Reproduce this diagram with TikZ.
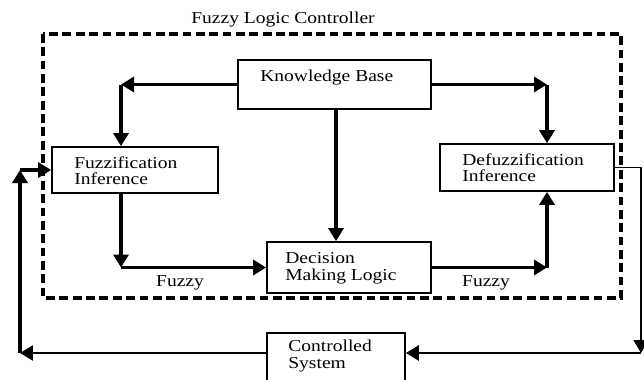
\documentclass[tikz,border=0pt]{standalone}
\usepackage{fontspec}
\setmainfont{Liberation Serif}[FakeStretch=1.17]
\usetikzlibrary{arrows.meta}
\begin{document}
\begin{tikzpicture}[x=0.02cm,y=-0.02cm,font=\fontsize{9.5}{9.6}\selectfont,
  box/.style={draw,line width=1pt,inner sep=0pt},
  lbl/.style={anchor=north west,inner sep=0pt,align=left},
  arr/.style={line width=2pt,-{Triangle[length=0.26cm,width=0.3cm]}}]
\useasboundingbox (0,0) rectangle (644,379);
\clip (0,0) rectangle (644,379);
\draw[line width=1.8pt,dash pattern=on 5pt off 2.6pt] (43,34) rectangle (621,298);
\node (title) at (283,20) {Fuzzy Logic Controller};
\node[box,minimum width=3.86cm,minimum height=0.98cm] (kb) at (334.5,84.5) {};
\node[box,minimum width=3.32cm,minimum height=0.92cm] (fuzz) at (135,170) {};
\node[box,minimum width=3.48cm,minimum height=0.94cm] (defuzz) at (527,167.5) {};
\node[box,minimum width=3.28cm,minimum height=1.02cm] (dml) at (349,267.5) {};
\node[box,minimum width=2.76cm,minimum height=1.2cm] (cs) at (336,363) {};
\node[lbl] (kbtext) at (260,70) {Knowledge Base};
\node[lbl] (fuzztext) at (74,156) {Fuzzification\\Inference};
\node[lbl] (defuzztext) at (462,153) {Defuzzification\\Inference};
\node[lbl] (dmltext) at (285,252) {Decision\\Making Logic};
\node[lbl] (cstext) at (288,340) {Controlled\\System};
\node (fuzzyl) at (180,283) {Fuzzy};
\node (fuzzyr) at (486,283) {Fuzzy};
% corners of the connectors
\coordinate (c1) at (121,84.5);
\coordinate (c2) at (547,84.5);
\coordinate (c3) at (121,267.5);
\coordinate (c4) at (547,267.5);
\coordinate (c5) at (641,167.5);
\coordinate (c6) at (641,353);
\coordinate (c7) at (20,353);
\coordinate (c8) at (20,170);
\draw[arr] (kb.west) -- (c1);
\draw[arr] (c1) -- (c1 |- fuzz.north);
\draw[arr] (kb.east) -- (c2);
\draw[arr] (c2) -- (c2 |- defuzz.north);
\draw[arr] (kb.south -| 336,0) -- (336,0 |- dml.north);
\draw[arr] (c1 |- fuzz.south) -- (c3);
\draw[arr] (c3) -- (dml.west);
\draw[arr] (dml.east) -- (c4);
\draw[arr] (c4) -- (c4 |- defuzz.south);
\draw[line width=1pt] (defuzz.east) -- (c5) -- ([yshift=0.2cm]c6);
\draw[arr,line width=1pt] ([yshift=0.3cm]c6) -- (c6);
\draw[arr,line width=1.5pt] (c6) -- (c6 -| cs.east);
\draw[arr,line width=1.5pt] (c6 -| cs.west) -- (c7);
\draw[arr] (c7) -- (c8);
\draw[arr] (c8) -- (c8 -| fuzz.west);
\end{tikzpicture}
\end{document}
